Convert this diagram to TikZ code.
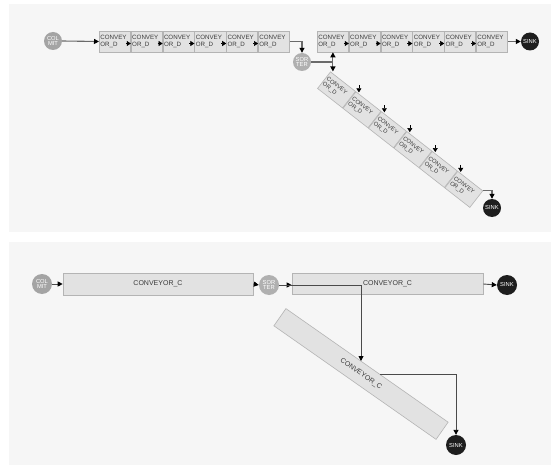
\documentclass[tikz,border=0pt]{standalone}
\usepackage{fontspec}
\setmainfont{Liberation Sans}
\usetikzlibrary{arrows.meta,calc}
\definecolor{panelbg}{HTML}{F6F6F6}
\definecolor{segfill}{HTML}{E2E2E2}
\definecolor{segline}{HTML}{B4B4B4}
\definecolor{segtext}{HTML}{3A3A3A}
\definecolor{wire}{HTML}{6A6A6A}
\definecolor{wiredark}{HTML}{4A4A4A}
\definecolor{sourcegray}{HTML}{A4A4A4}
\definecolor{sortergray}{HTML}{B0B0B0}
\definecolor{sinkblack}{HTML}{1E1E1E}
\begin{document}
\begin{tikzpicture}[x=1pt,y=-1pt,
  panel/.style={fill=panelbg,draw=none},
  seg/.style={draw=segline,fill=segfill,line width=0.6pt,minimum width=31.2pt,
    minimum height=21pt,inner sep=0pt,text width=29pt,align=left,
    font=\fontsize{6.2}{6.6}\selectfont,text=segtext},
  dseg/.style={seg,minimum width=31.7pt,rotate=-38,anchor=west,
    font=\fontsize{5.8}{6.4}\selectfont},
  longseg/.style={draw=segline,fill=segfill,line width=0.6pt,inner sep=0pt,
    font=\fontsize{7}{8}\selectfont,text=segtext},
  station/.style={circle,inner sep=0pt,minimum size=#1,text=white,align=center,
    font=\fontsize{5.8}{5.9}\selectfont},
  source/.style={station=#1,fill=sourcegray},
  sorter/.style={station=#1,fill=sortergray},
  sink/.style={station=#1,fill=sinkblack},
  arr/.style={draw=wire,line width=1.1pt,-{Triangle[length=5pt,width=5pt,black]}},
  arrdark/.style={draw=wiredark,line width=0.9pt,-{Triangle[length=5pt,width=5pt,black]}},
  tri/.style={draw=black,line width=0.5pt,-{Triangle[length=4pt,width=5pt,black]}}]

\useasboundingbox (0,0) rectangle (551,465);

% ---------- upper layout: conveyors split into short sections ----------
\fill[panel] (9,4) rectangle (551,232);

\node[source=18pt] (colA) at (53,41) {COL\\MIT};

\node[seg,anchor=west] (a1) at (99,41.5) {CONVEY\\OR\_D};
\foreach \i/\p in {2/1,3/2,4/3,5/4,6/5}
  \node[seg,anchor=west] (a\i) at (a\p.east) {CONVEY\\OR\_D};

\node[sorter=18pt] (sorterA) at (302,62) {SOR\\TER};

\node[seg,anchor=west] (b1) at (317,41.5) {CONVEY\\OR\_D};
\foreach \i/\p in {2/1,3/2,4/3,5/4,6/5}
  \node[seg,anchor=west] (b\i) at (b\p.east) {CONVEY\\OR\_D};

\node[sink=18pt] (sinkA) at (530,41.5) {SINK};

\node[dseg] (d1) at (323.8,80) {CONVEY\\OR\_D};
\foreach \i/\p in {2/1,3/2,4/3,5/4,6/5}
  \node[dseg] (d\i) at (d\p.east) {CONVEY\\OR\_D};

\node[sink=18pt] (sinkB) at (492,208) {SINK};

% flow markers between sections
\foreach \i in {1,...,5} {
  \draw[tri] ([shift={(-5,2)}]a\i.east) -- ([shift={(0,2)}]a\i.east);
  \draw[tri] ([shift={(-5,2)}]b\i.east) -- ([shift={(0,2)}]b\i.east);
  \draw[tri] ([shift={(3,-6)}]d\i.north east) -- ([shift={(3,1)}]d\i.north east);
}

% connectors
\coordinate (jA) at (sorterA.east -| b1.south);
\draw[arr] (colA.east) -- (a1.west);
\draw[arr] (a6.east) -| (sorterA.north);
\draw[draw=wire,line width=1.1pt] (sorterA.east) -- (jA);
\draw[arr] (jA) -- (b1.south);
\draw[arr] (jA) -- (jA |- d1.north west);
\draw[arr] (b6.east) -- (sinkA.west);
\draw[arr] (d6.north east) -| (sinkB.north);

% ---------- lower layout: one long conveyor per line ----------
\fill[panel] (9,242) rectangle (551,465);

\node[source=20pt] (colB) at (42,284) {COL\\MIT};
\node[longseg,minimum width=190pt,minimum height=22pt] (c1) at (158,284) {CONVEYOR\_C};
\node[sorter=20pt] (sorterB) at (269,285) {SOR\\TER};
\node[longseg,minimum width=191pt,minimum height=21pt] (c2) at (387.5,284) {CONVEYOR\_C};
\node[sink=20pt] (sinkC) at (507,285) {SINK};
\node[longseg,minimum width=198pt,minimum height=21pt,rotate=-35] (c3) at (361,374) {CONVEYOR\_C};
\node[sink=20pt] (sinkD) at (456,445) {SINK};

\coordinate (c3in) at (361,361);
\coordinate (c3out) at (380,374);

\draw[arrdark] (colB.east) -- (c1.west);
\draw[arrdark] (c1.east) -- (sorterB.west);
\draw[arrdark] (sorterB.east) -- (sorterB.east -| c2.west);
\draw[arrdark] (sorterB.east) -| (c3in);
\draw[arrdark] (c2.east) -- (sinkC.west);
\draw[arrdark] (c3out) -| (sinkD.north);

\end{tikzpicture}
\end{document}
